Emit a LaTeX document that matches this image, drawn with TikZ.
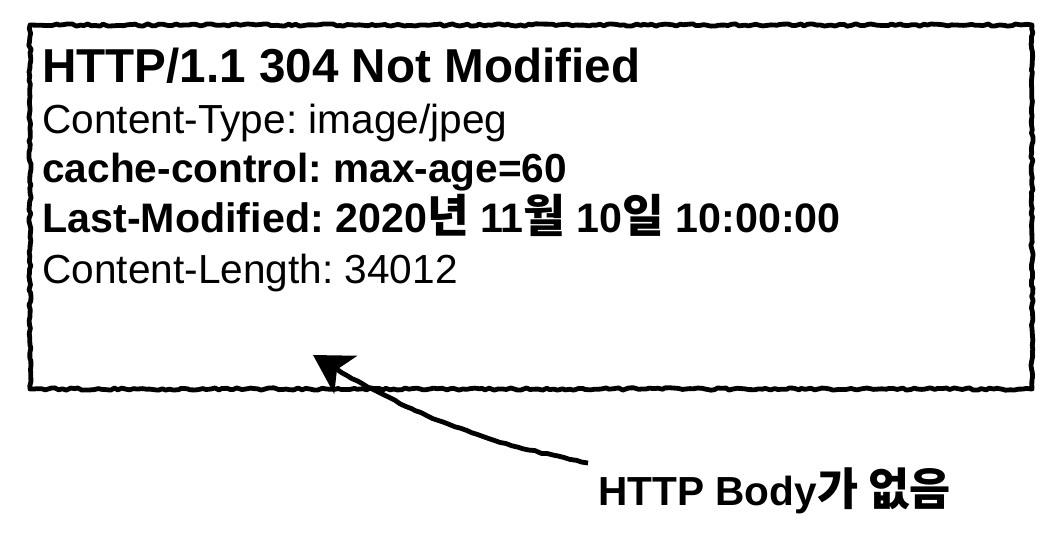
\documentclass[tikz,border=0pt]{standalone}
\usepackage{fontspec}
\setmainfont{Liberation Sans}
\newfontfamily\krfont[Scale=1.1]{Noto Sans CJK KR}
\usetikzlibrary{positioning,decorations.pathmorphing,arrows.meta}
\frenchspacing

\begin{document}
\begin{tikzpicture}[x=0.5pt, y=0.5pt,
    hdr/.style={anchor=base west, inner sep=0pt, font=\fontsize{23.8}{28}\selectfont\bfseries},
    ln/.style={inner sep=0pt, font=\fontsize{20.3}{24}\selectfont},
    bln/.style={ln, font=\fontsize{20.3}{24}\selectfont\bfseries},
    sketch/.style={line width=2.4pt, line join=round, decorate,
      decoration={random steps, segment length=2pt, amplitude=0.6pt, post length=8pt}}]
		\useasboundingbox (0,0) rectangle (1064,538);

		% header lines
		\node[hdr] (status) at (42,456) {HTTP/1.1 304 Not Modified};
		\node[ln, below=25.5pt of status.base west, anchor=base west] (ctype) {Content-Type: image/jpeg};
		\node[bln, below=24.5pt of ctype.base west, anchor=base west] (cache) {cache-control: max-age=60};
		\node[bln, below=25pt of cache.base west, anchor=base west, font=\fontsize{20.6}{24}\selectfont\bfseries] (lastmod) {Last-Modified: 2020{\krfont 년} 11{\krfont 월} 10{\krfont 일} 10:00:00};
		\node[ln, below=25.5pt of lastmod.base west, anchor=base west] (clength) {Content-Length: 34012};

		% message frame
		\draw[sketch] (30,513) rectangle (1032,149);

		% note
		\node[bln, anchor=base west] (note) at (598,33) {HTTP Body{\krfont 가 없음}};
		\coordinate (tail) at (588,75);
		\coordinate (tip) at (313,183);
		\draw[sketch, decoration={amplitude=0.35pt, segment length=3pt}, -{Stealth[length=19pt, width=22pt, inset=5pt]}] (tail) to[bend left=10] (tip);
	\end{tikzpicture}
\end{document}
